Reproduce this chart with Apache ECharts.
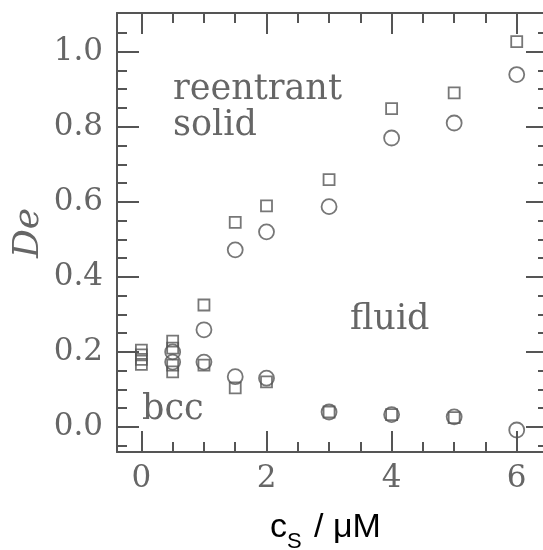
<!DOCTYPE html>
<html><head><meta charset="utf-8">
<script src="https://cdn.jsdelivr.net/npm/echarts@6/dist/echarts.min.js"></script>
<style>html,body{margin:0;padding:0;background:#fff}#c{width:543px;height:550px}</style>
</head><body><div id="c"></div><script>
// ---- data ----
const xTickValues = [0, 2, 4, 6];
const xMinorTicks = [0.5, 1, 1.5, 2.5, 3, 3.5, 4.5, 5, 5.5];
const yTickValues = [0, 0.2, 0.4, 0.6, 0.8, 1.0];
const yMinorTicks = [-0.05, 0.05, 0.1, 0.15, 0.25, 0.3, 0.35, 0.45, 0.5, 0.55, 0.65, 0.7, 0.75, 0.85, 0.9, 0.95, 1.05];
const squareX = [0, 0, 0, 0, 0.5, 0.5, 0.5, 0.5, 1, 1, 1.5, 1.5, 2, 2, 3, 3, 4, 4, 5, 5, 6];
const squareY = [0.205, 0.192, 0.18, 0.167, 0.229, 0.21, 0.165, 0.147, 0.325, 0.165, 0.545, 0.104, 0.589, 0.12, 0.659, 0.04, 0.848, 0.033, 0.89, 0.025, 1.027];
const circleX = [0.5, 0.5, 1, 1, 1.5, 1.5, 2, 2, 3, 3, 4, 4, 5, 5, 6, 6];
const circleY = [0.2, 0.173, 0.259, 0.173, 0.472, 0.134, 0.52, 0.13, 0.587, 0.04, 0.77, 0.033, 0.81, 0.027, 0.939, -0.008];
const regionLabels = ['reentrant', 'solid', 'fluid', 'bcc'];
const xName = ['c', 'S', '/ \u03bcM'];
const yName = 'De';

// ---- style ----
const INK = '#555';
const LBL = '#666';
const X_MIN = -0.39, X_MAX = 6.5, Y_MIN = -0.0666, Y_MAX = 1.103;
const SERIF = 'DejaVu Serif';

function xAx(pos, major, showLabel) {
  return {
    type: 'value', position: pos, min: X_MIN, max: X_MAX, gridIndex: 0,
    axisLine: { show: major, onZero: false, lineStyle: { color: INK, width: 2 } },
    axisTick: { show: true, inside: true, length: major ? 21 : 10,
      customValues: major ? xTickValues : xMinorTicks, lineStyle: { color: INK, width: 2 } },
    axisLabel: { show: showLabel, customValues: xTickValues, color: LBL, fontFamily: SERIF,
      fontSize: 31, margin: 11, formatter: v => String(Math.round(v)) },
    splitLine: { show: false }
  };
}
function yAx(pos, major, showLabel) {
  return {
    type: 'value', position: pos, min: Y_MIN, max: Y_MAX, gridIndex: 0,
    axisLine: { show: major, onZero: false, lineStyle: { color: INK, width: 2 } },
    axisTick: { show: true, inside: true, length: major ? 22 : 10,
      customValues: major ? yTickValues : yMinorTicks, lineStyle: { color: INK, width: 2 } },
    axisLabel: { show: showLabel, customValues: yTickValues, color: LBL, fontFamily: SERIF,
      fontSize: 31, margin: 14, formatter: v => v.toFixed(1) },
    splitLine: { show: false }
  };
}

const chart = echarts.init(document.getElementById('c'), null, { renderer: 'canvas' });

function txt(text, x, baseline, size, opts) {
  opts = opts || {};
  return {
    type: 'text', x: x, y: baseline - 0.35 * size, rotation: opts.rotation || 0,
    style: { text: text, font: (opts.style || '') + ' ' + size + 'px "' + (opts.family || SERIF) + '"',
      fill: opts.color || LBL, align: opts.align || 'left', verticalAlign: 'middle' }
  };
}

chart.setOption({
  animation: false,
  grid: { left: 117, top: 13, width: 431, height: 439, containLabel: false, outerBoundsMode: 'none' },
  xAxis: [xAx('bottom', true, true), xAx('bottom', false, false), xAx('top', true, false), xAx('top', false, false)],
  yAxis: [yAx('left', true, true), yAx('left', false, false), yAx('right', true, false), yAx('right', false, false)],
  series: [
    { type: 'scatter', name: 'square', symbol: 'rect', symbolSize: 11,
      itemStyle: { color: 'rgba(0,0,0,0)', borderColor: INK, borderWidth: 1.8 },
      data: squareX.map((x, i) => [x, squareY[i]]) },
    { type: 'scatter', name: 'circle', symbol: 'circle', symbolSize: 15,
      itemStyle: { color: 'rgba(0,0,0,0)', borderColor: INK, borderWidth: 1.8 },
      data: circleX.map((x, i) => [x, circleY[i]]) }
  ],
  graphic: [
    txt(regionLabels[0], 173, 102, 35),
    txt(regionLabels[1], 173, 138, 35),
    txt(regionLabels[2], 350, 332, 35),
    txt(regionLabels[3], 142, 422, 35),
    { type: 'text', x: 29, y: 233, rotation: Math.PI / 2,
      style: { text: yName, font: 'italic 36px "' + SERIF + '"', fill: LBL, align: 'center', verticalAlign: 'middle' } },
    txt(xName[0], 270, 540, 34, { family: 'Liberation Sans', color: '#000' }),
    txt(xName[1], 287, 550, 22, { family: 'Liberation Sans', color: '#000' }),
    txt(xName[2], 314, 540, 34, { family: 'Liberation Sans', color: '#000' })
  ]
});
</script></body></html>
